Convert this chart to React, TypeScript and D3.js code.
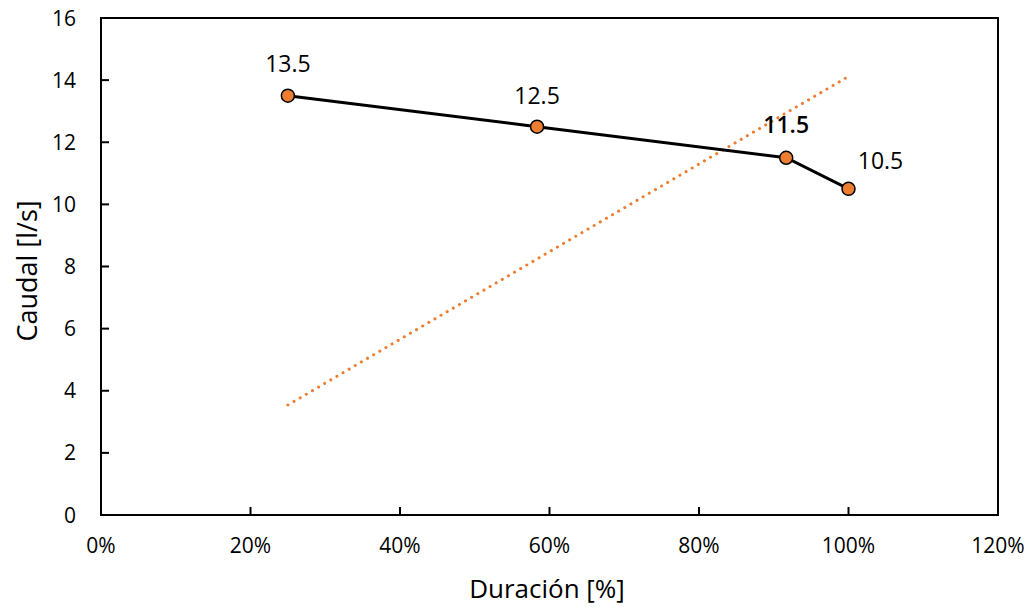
import React from "react";
import * as d3 from "d3";

// Caudal vs. duración
const duration = [3 / 12, 7 / 12, 11 / 12, 12 / 12];
const flow = [13.5, 12.5, 11.5, 10.5];
const flowLabels = ["13.5", "12.5", "11.5", "10.5"];
// Linear trend line endpoints (duración, caudal)
const trendX = [0.25, 1.0];
const trendY = [3.54, 14.12];
const xTicks = [0, 0.2, 0.4, 0.6, 0.8, 1.0, 1.2];
const yTicks = [0, 2, 4, 6, 8, 10, 12, 14, 16];

const W = 1028;
const H = 607;
const M = { left: 101, right: 30, top: 18, bottom: 92 };
const FONT = "'Segoe UI', 'Open Sans', 'Noto Sans', sans-serif";
const ORANGE = "#ED7D31";

export default function App() {
  const x = d3.scaleLinear().domain([0, 1.2]).range([M.left, W - M.right]);
  const y = d3.scaleLinear().domain([0, 16]).range([H - M.bottom, M.top]);
  const line = d3
    .line<number>()
    .x((_, i) => x(duration[i]))
    .y((d) => y(d));
  const trend = d3
    .line<number>()
    .x((_, i) => x(trendX[i]))
    .y((d) => y(d));

  // label offsets relative to each point
  const labelOffset = [
    [0, -24],
    [0, -23],
    [0, -25],
    [32, -20],
  ];

  const x0 = x(0);
  const x1 = x(1.2);
  const y0 = y(0);
  const y1 = y(16);

  return (
    <svg
      width={W}
      height={H}
      style={{ position: "absolute", left: 0, top: 0, background: "#fff" }}
      fontFamily={FONT}
    >
      {/* frame */}
      <rect x={x0} y={y1} width={x1 - x0} height={y0 - y1} fill="none" stroke="#000" strokeWidth={2} />

      {/* y ticks */}
      {yTicks.map((t) => (
        <g key={"y" + t}>
          {t > 0 && t < 16 && (
            <line x1={x0} x2={x0 + 8} y1={y(t)} y2={y(t)} stroke="#000" strokeWidth={2} />
          )}
          <text x={x0 - 25} y={y(t)} dy="0.36em" textAnchor="end" fontSize={21} fill="#000">
            {t}
          </text>
        </g>
      ))}

      {/* x ticks */}
      {xTicks.map((t) => (
        <g key={"x" + t}>
          {t > 0 && t < 1.2 && (
            <line x1={x(t)} x2={x(t)} y1={y0} y2={y0 - 8} stroke="#000" strokeWidth={2} />
          )}
          <text x={x(t)} y={y0 + 38} textAnchor="middle" fontSize={21} fill="#000">
            {d3.format(".0%")(t)}
          </text>
        </g>
      ))}

      {/* trend line */}
      <path
        d={trend(trendY) || ""}
        fill="none"
        stroke={ORANGE}
        strokeWidth={3}
        strokeDasharray="0.1 7"
        strokeLinecap="round"
      />

      {/* series line */}
      <path d={line(flow) || ""} fill="none" stroke="#000" strokeWidth={3} />

      {/* markers */}
      {flow.map((v, i) => (
        <circle key={"m" + i} cx={x(duration[i])} cy={y(v)} r={6.5} fill={ORANGE} stroke="#000" strokeWidth={1.5} />
      ))}

      {/* data labels */}
      {flow.map((v, i) => (
        <text
          key={"l" + i}
          x={x(duration[i]) + labelOffset[i][0]}
          y={y(v) + labelOffset[i][1]}
          textAnchor="middle"
          fontSize={23}
          fill="#000"
          fontWeight={i === 2 ? 600 : 400}
        >
          {flowLabels[i]}
        </text>
      ))}

      {/* axis titles */}
      <text
        transform={`translate(${37},${271}) rotate(-90)`}
        textAnchor="middle"
        fontSize={27}
        fill="#000"
      >
        Caudal [l/s]
      </text>
      <text x={547} y={598} textAnchor="middle" fontSize={26} fill="#000">
        Duración [%]
      </text>
    </svg>
  );
}
